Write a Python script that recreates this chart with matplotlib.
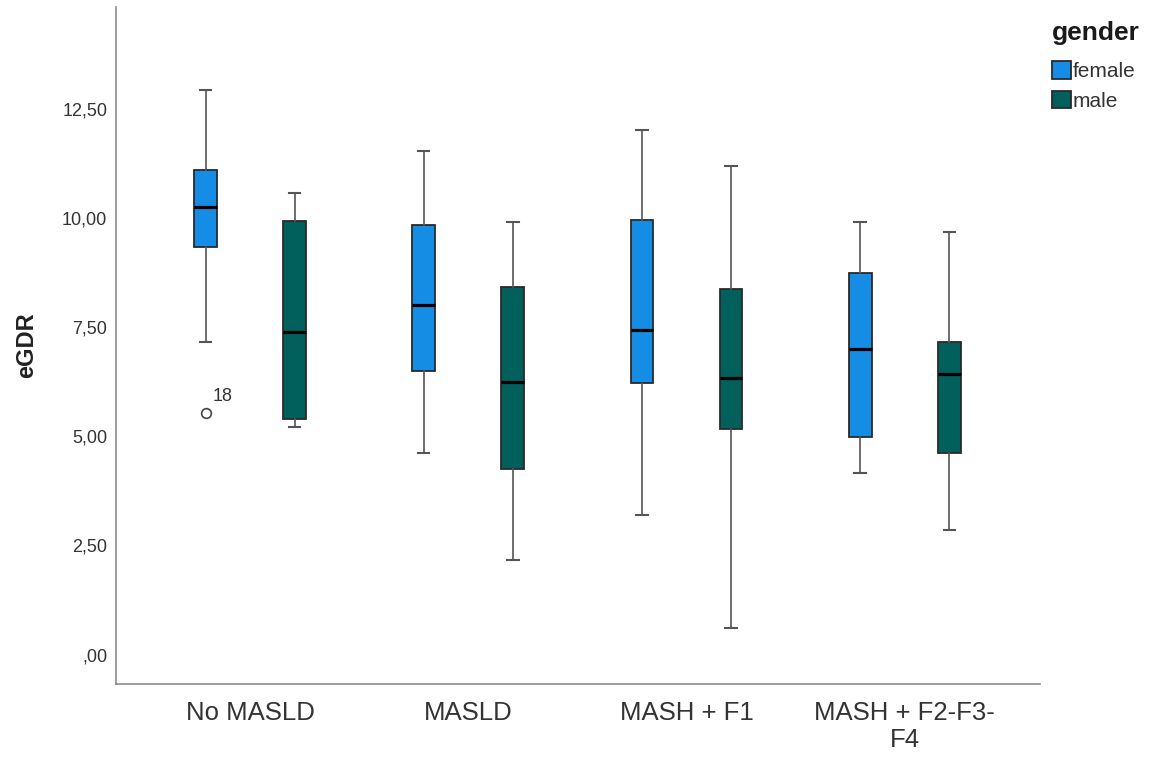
import matplotlib
matplotlib.use('Agg')
import matplotlib.pyplot as plt
from matplotlib.patches import Patch
from matplotlib.ticker import FuncFormatter
import numpy as np

plt.rcParams['font.family'] = ['Liberation Sans', 'DejaVu Sans']

# dados (eGDR por grupo e genero)
grupos = ['No MASLD', 'MASLD', 'MASH + F1', 'MASH + F2-F3-\nF4']
generos = ['female', 'male']
cores = ['#168DE5', '#01605C']

female_whislo = [7.16, 4.61, 3.20, 4.16]
female_q1 = [9.35, 6.50, 6.23, 4.99]
female_med = [10.26, 8.01, 7.44, 7.00]
female_q3 = [11.11, 9.85, 9.96, 8.76]
female_whishi = [12.94, 11.55, 12.03, 9.91]

male_whislo = [5.21, 2.16, 0.61, 2.85]
male_q1 = [5.39, 4.25, 5.17, 4.61]
male_med = [7.40, 6.24, 6.35, 6.44]
male_q3 = [9.94, 8.43, 8.38, 7.16]
male_whishi = [10.58, 9.91, 11.20, 9.70]

# outlier: (grupo, genero, valor, rotulo)
outliers = [(0, 'female', 5.53, '18')]

yticks = [0, 2.5, 5, 7.5, 10, 12.5]

fig = plt.figure(figsize=(11.53, 7.57), dpi=100)
ax = fig.add_axes([0.1003, 0.0964, 0.8017, 0.8944])

largura = 0.105
desloc = 0.204

series = {
    'female': (female_whislo, female_q1, female_med, female_q3, female_whishi),
    'male': (male_whislo, male_q1, male_med, male_q3, male_whishi),
}

for k, g in enumerate(generos):
    lo, q1, med, q3, hi = series[g]
    stats = []
    for i in range(len(grupos)):
        fl = [o[2] for o in outliers if o[0] == i and o[1] == g]
        stats.append({'whislo': lo[i], 'q1': q1[i], 'med': med[i], 'q3': q3[i],
                      'whishi': hi[i], 'fliers': fl})
    pos = np.arange(len(grupos)) + (-desloc if k == 0 else desloc)
    ax.bxp(stats, positions=pos, widths=largura, patch_artist=True,
           capwidths=largura * 0.5, manage_ticks=False,
           boxprops=dict(facecolor=cores[k], edgecolor='#2a2a2a', linewidth=1.3),
           medianprops=dict(color='black', linewidth=2.3, solid_capstyle='butt'),
           whiskerprops=dict(color='#555555', linewidth=1.2),
           capprops=dict(color='#555555', linewidth=1.5),
           flierprops=dict(marker='o', markersize=7, markerfacecolor='white',
                           markeredgecolor='#444444', markeredgewidth=1.2))

# rotulo do outlier
for i, g, v, txt in outliers:
    x = i + (-desloc if g == 'female' else desloc)
    ax.annotate(txt, (x, v), xytext=(5, 6), textcoords='offset points',
                fontsize=13, color='#333333', ha='left', va='bottom')

ax.set_xlim(-0.616, 3.62)
ax.set_ylim(-0.677, 14.85)
ax.set_xticks(np.arange(len(grupos)))
ax.set_xticklabels(grupos, fontsize=18.5, color='#333333', linespacing=1.15)
ax.set_yticks(yticks)
ax.yaxis.set_major_formatter(FuncFormatter(
    lambda v, p: ',00' if v == 0 else f'{v:.2f}'.replace('.', ',')))
ax.tick_params(axis='y', length=0, pad=6, labelsize=13, labelcolor='#333333')
ax.tick_params(axis='x', length=0, pad=12)

for s in ['top', 'right']:
    ax.spines[s].set_visible(False)
for s in ['left', 'bottom']:
    ax.spines[s].set_color('#8c8c8c')
    ax.spines[s].set_linewidth(1.2)

ax.set_ylabel('eGDR', fontsize=17, fontweight='bold', color='#222222')
ax.yaxis.set_label_coords(-0.084, 0.5)

# legenda: titulo separado para controlar o espaco
fig.text(1052 / 1153, 1 - 33 / 757, 'gender', fontsize=19, fontweight='bold',
         color='#1a1a1a', ha='left', va='center')
handles = [Patch(facecolor=cores[k], edgecolor='#2a2a2a', linewidth=1.3, label=g)
           for k, g in enumerate(generos)]
leg = fig.legend(handles=handles, loc='upper left', bbox_to_anchor=(1052 / 1153, 1 - 61 / 757),
                 frameon=False, fontsize=15, handlelength=0.9,
                 handleheight=0.95, handletextpad=0.08, labelspacing=0.45,
                 borderaxespad=0, borderpad=0)
for t in leg.get_texts():
    t.set_color('#333333')

fig.savefig('out.png', dpi=100, facecolor='white')
